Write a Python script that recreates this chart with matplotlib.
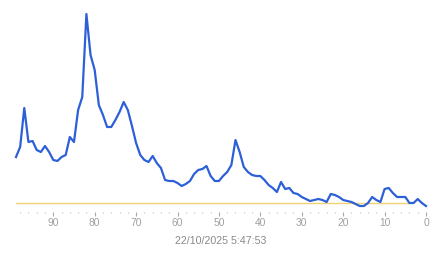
import matplotlib
matplotlib.use("Agg")
import matplotlib.pyplot as plt
from matplotlib.ticker import MultipleLocator

# minutes ago (100 samples, newest at 0)
minutes_ago = list(range(99, -1, -1))
# series values, oldest first
values = [53, 63, 102, 68, 69, 60, 58, 64, 58, 50,
          49, 53, 55, 73, 68, 100, 113, 196, 155, 140,
          105, 95, 83, 83, 90, 98, 108, 100, 84, 67,
          55, 50, 48, 54, 47, 42, 30, 29, 29, 27,
          24, 26, 29, 36, 40, 41, 44, 34, 29, 29,
          34, 38, 45, 70, 58, 43, 38, 35, 34, 34,
          30, 25, 22, 18, 28, 21, 22, 17, 16, 13,
          11, 9, 10, 11, 10, 8, 16, 15, 13, 10,
          9, 8, 6, 4, 4, 7, 13, 10, 8, 21,
          22, 17, 13, 13, 13, 7, 7, 11, 7, 4]
limit_x = [99, 4]
limit_value = 7
stamp = "22/10/2025 5:47:53"

fig = plt.figure(figsize=(4.43, 2.58), dpi=100)
W, H = 443, 258
# axes in pixel terms: x 16..426, y 5..210 (top..bottom)
ax = fig.add_axes([16 / W, (H - 210) / H, 410 / W, 205 / H])

ax.plot(limit_x, [limit_value, limit_value], color="#f0d274", lw=1.0, zorder=1)
ax.plot(minutes_ago, values, color="#2d5fd8", lw=1.6, zorder=2,
        solid_joinstyle="round", clip_on=False)

ax.set_xlim(99, 0)
ax.set_ylim(0, 205)

for s in ax.spines.values():
    s.set_visible(False)
ax.spines["bottom"].set_position(("outward", 1.5))
ax.set_yticks([])
ax.xaxis.set_major_locator(MultipleLocator(10))
ax.xaxis.set_minor_locator(MultipleLocator(2))
ax.tick_params(axis="x", which="major", length=3, width=0.8, color="#aaaaaa",
               labelsize=7.4, labelcolor="#a0a0a0", pad=1.5)
ax.tick_params(axis="x", which="minor", length=1, width=0.8, color="#bbbbbb")
for lab in ax.get_xticklabels():
    lab.set_fontfamily("Liberation Sans")

fig.text(221 / W, 1 - 241 / H, stamp, ha="center", va="center",
         fontsize=7.7, color="#8a8a8a", family="Liberation Sans")

fig.savefig("out.png", dpi=100)
